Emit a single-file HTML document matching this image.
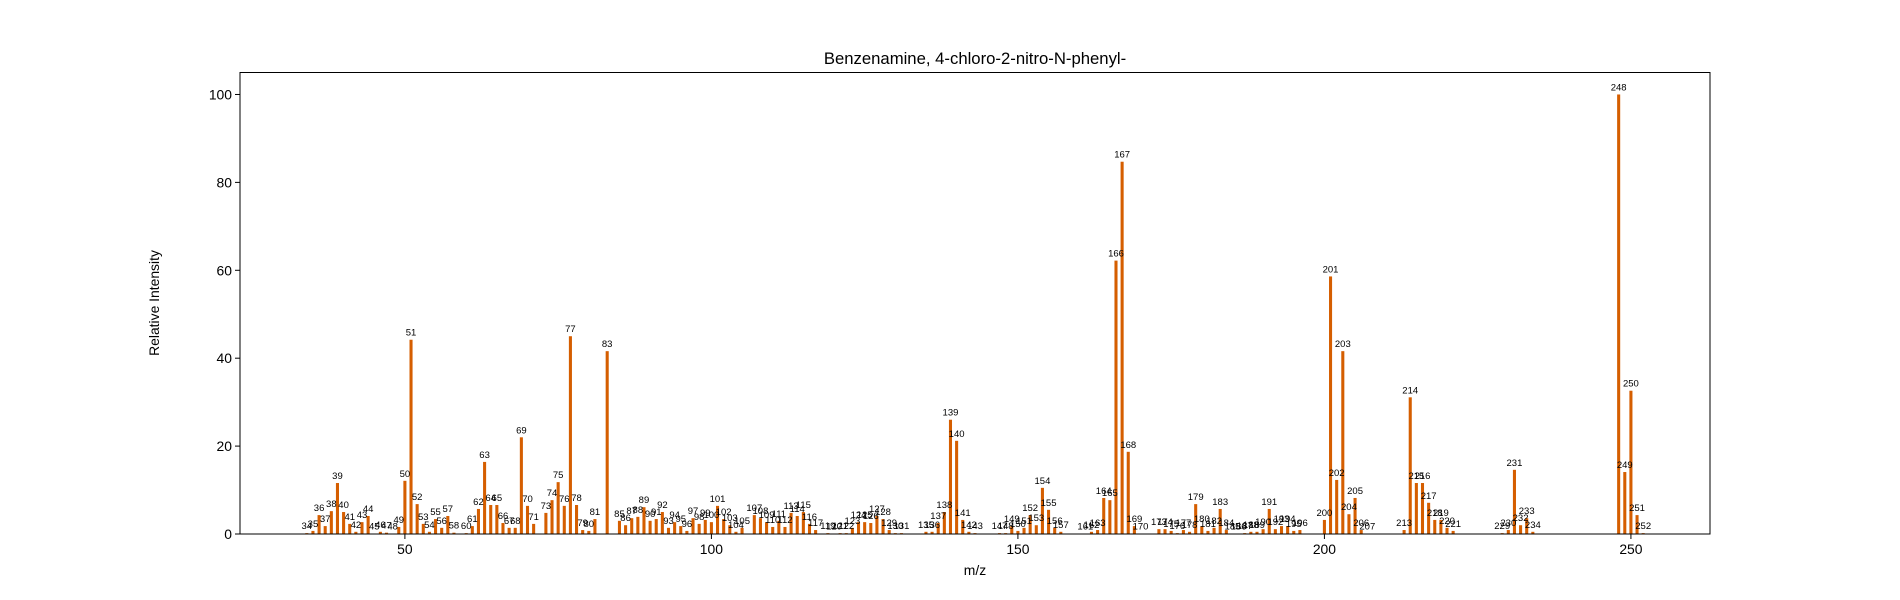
<!DOCTYPE html>
<html><head><meta charset="utf-8"><style>
html,body{margin:0;padding:0;background:#fff;}
svg{display:block;font-family:"Liberation Sans","DejaVu Sans",sans-serif;}
</style></head><body>
<svg id="chart" width="1900" height="600" viewBox="0 0 1900 600">
<rect width="1900" height="600" fill="#fff"/>
<text x="975" y="64" text-anchor="middle" font-size="16.7" fill="#000">Benzenamine, 4-chloro-2-nitro-N-phenyl-</text>
<g id="bars"></g>
<g id="labels"></g>
<rect x="240" y="72.5" width="1470" height="461.5" fill="none" stroke="#000" stroke-width="1"/>
<g id="xaxis"></g>
<g id="yaxis"></g>
<text x="975" y="575" text-anchor="middle" font-size="13.9">m/z</text>
<text transform="translate(159,303) rotate(-90)" text-anchor="middle" font-size="13.9">Relative Intensity</text>
</svg>
<script>
const mz = [34,35,36,37,38,39,40,41,42,43,44,45,46,47,48,49,50,51,52,53,54,55,56,57,58,60,61,62,63,64,65,66,67,68,69,70,71,73,74,75,76,77,78,79,80,81,83,85,86,87,88,89,90,91,92,93,94,95,96,97,98,99,100,101,102,103,104,105,107,108,109,110,111,112,113,114,115,116,117,119,120,121,122,123,124,125,126,127,128,129,130,131,135,136,137,138,139,140,141,142,143,147,148,149,150,151,152,153,154,155,156,157,161,162,163,164,165,166,167,168,169,170,173,174,175,176,177,178,179,180,181,182,183,184,185,186,187,188,189,190,191,192,193,194,195,196,200,201,202,203,204,205,206,207,213,214,215,216,217,218,219,220,221,229,230,231,232,233,234,248,249,250,251,252];
const intensity = [0.2,0.7,4.3,1.8,5.2,11.6,5.0,2.3,0.5,2.7,4.1,0.1,0.5,0.3,0.1,1.6,12.1,44.2,6.8,2.3,0.5,3.4,1.4,4.1,0.3,0.2,1.8,5.7,16.4,6.6,6.6,2.5,1.4,1.4,22.0,6.4,2.3,4.8,7.7,11.8,6.4,45.0,6.6,0.9,0.7,3.4,41.6,3.0,2.0,3.6,3.9,6.1,3.0,3.4,5.0,1.4,2.7,1.8,0.7,3.6,2.3,3.2,2.7,6.4,3.4,2.0,0.5,1.4,4.3,3.6,2.7,1.6,3.0,1.6,4.8,4.1,5.0,2.3,0.9,0.2,0.1,0.2,0.2,1.4,2.7,2.7,2.5,4.1,3.4,0.9,0.2,0.2,0.5,0.5,2.5,5.0,26.0,21.2,3.2,0.5,0.2,0.2,0.2,1.8,0.7,1.4,4.3,2.0,10.5,5.5,1.4,0.5,0.1,0.5,0.9,8.2,7.7,62.2,84.7,18.7,1.8,0.1,1.1,1.1,0.7,0.2,0.9,0.5,6.8,1.8,0.7,1.4,5.7,0.9,0.1,0.1,0.2,0.5,0.5,1.1,5.7,1.1,1.8,1.8,0.7,0.9,3.2,58.6,12.3,41.6,4.5,8.2,0.9,0.1,0.9,31.1,11.6,11.6,7.1,3.2,3.2,1.4,0.7,0.2,0.9,14.6,2.0,3.6,0.5,100,14.1,32.6,4.3,0.2];
const xTicks = [50,100,150,200,250];
const yTicks = [0,20,40,60,80,100];

const NS = 'http://www.w3.org/2000/svg';
const PL=240, PR=1710, PT=72.5, PB=534;
const XMIN=23.1, XMAX=262.9, YMIN=0, YMAX=105;
const xs = v => PL + (v-XMIN)/(XMAX-XMIN)*(PR-PL);
const ys = v => PB - (v-YMIN)/(YMAX-YMIN)*(PB-PT);
function mk(tag, attrs){const e=document.createElementNS(NS,tag);for(const k in attrs)e.setAttribute(k,attrs[k]);return e;}

const gB=document.getElementById('bars'), gL=document.getElementById('labels');
const bw = xs(0.5)-xs(0);
mz.forEach((m,i)=>{
  const v=intensity[i];
  const r=mk('rect',{x:xs(m)-bw/2,y:ys(v),width:bw,height:Math.max(0,ys(0)-ys(v)),fill:'#d55e00'});
  
  
  gB.appendChild(r);
  const t=mk('text',{x:xs(m),y:ys(v)-4,'text-anchor':'middle','font-size':'9.5',fill:'#000'});
  t.textContent=String(m);
  
  
  gL.appendChild(t);
});
const gX=document.getElementById('xaxis');
xTicks.forEach(v=>{
  const l=mk('line',{x1:xs(v),x2:xs(v),y1:PB,y2:PB+5,stroke:'#000'});
  
  
  gX.appendChild(l);
  const t=mk('text',{x:xs(v),y:PB+20,'text-anchor':'middle','font-size':'13.9'});
  t.textContent=v;
  
  
  gX.appendChild(t);
});
const gY=document.getElementById('yaxis');
yTicks.forEach(v=>{
  const l=mk('line',{x1:PL-5,x2:PL,y1:ys(v),y2:ys(v),stroke:'#000'});
  
  
  gY.appendChild(l);
  const t=mk('text',{x:PL-8,y:ys(v)+5,'text-anchor':'end','font-size':'13.9'});
  t.textContent=v;
  
  
  gY.appendChild(t);
});
</script>
</body></html>
